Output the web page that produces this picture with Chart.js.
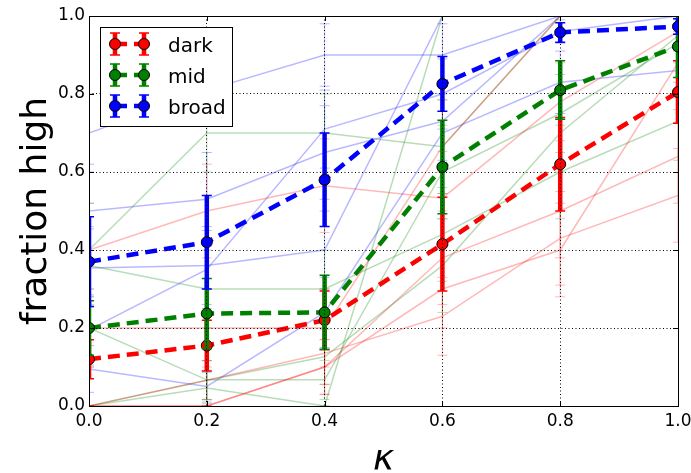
<!DOCTYPE html>
<html><head><meta charset="utf-8">
<script src="https://cdn.jsdelivr.net/npm/chart.js@4.4.0/dist/chart.umd.min.js"></script>
<style>html,body{margin:0;padding:0;background:#fff}#wrap{width:691px;height:473px;position:relative}</style>
</head><body><div id="wrap"><canvas id="c" width="691" height="473"></canvas></div>
<script>
// ---------- data ----------
const kappa = [0.0, 0.2, 0.4, 0.6, 0.8, 1.0];
const tickVals = [0.0, 0.2, 0.4, 0.6, 0.8, 1.0];
const tickLabels = ['0.0', '0.2', '0.4', '0.6', '0.8', '1.0'];
const seriesNames = ['dark', 'mid', 'broad'];

const darkMean = [0.12, 0.155, 0.22, 0.415, 0.62, 0.805];
const darkErr  = [0.05, 0.065, 0.075, 0.12, 0.12, 0.08];
const midMean  = [0.20, 0.237, 0.24, 0.613, 0.81, 0.922];
const midErr   = [0.07, 0.09, 0.095, 0.12, 0.075, 0.08];
const broadMean = [0.37, 0.42, 0.58, 0.826, 0.958, 0.973];
const broadErr  = [0.115, 0.12, 0.12, 0.07, 0.025, 0.02];

const darkRuns = [
  [0.40, 0.50, 0.565, 0.533, 0.78, 0.96],
  [0.20, 0.20, 0.20, 0.665, 1.00, 1.00],
  [0.00, 0.066, 0.135, 0.23, 0.43, 0.54],
  [0.00, 0.00, 0.10, 0.38, 0.50, 0.64],
  [0.00, 0.00, 0.10, 0.30, 0.40, 0.88]
];
const darkRunErrs = [
  [0.12, 0.12, 0.12, 0.12, 0.10, 0.04],
  [0.10, 0.10, 0.10, 0.12, 0.00, 0.00],
  [0.00, 0.05, 0.08, 0.10, 0.12, 0.12],
  [0.00, 0.00, 0.07, 0.12, 0.12, 0.12],
  [0.00, 0.00, 0.07, 0.10, 0.12, 0.08]
];
const midRuns = [
  [0.40, 0.70, 0.70, 0.665, 1.00, 1.00],
  [0.36, 0.30, 0.30, 0.44, 0.60, 0.73],
  [0.20, 0.067, 0.067, 0.60, 0.75, 0.93],
  [0.00, 0.046, 0.00, 1.00, 1.00, 1.00],
  [0.00, 0.066, 0.126, 0.36, 0.70, 0.95]
];
const midRunErrs = [
  [0.12, 0.10, 0.10, 0.12, 0.00, 0.00],
  [0.10, 0.10, 0.10, 0.12, 0.12, 0.10],
  [0.10, 0.05, 0.05, 0.12, 0.10, 0.05],
  [0.00, 0.04, 0.00, 0.00, 0.00, 0.00],
  [0.00, 0.05, 0.07, 0.12, 0.10, 0.04]
];
const broadRuns = [
  [0.70, 0.81, 0.90, 0.90, 1.00, 1.00],
  [0.50, 0.53, 0.65, 0.73, 1.00, 1.00],
  [0.354, 0.36, 0.40, 1.00, 1.00, 1.00],
  [0.195, 0.35, 0.71, 0.80, 0.96, 1.00],
  [0.095, 0.05, 0.24, 0.70, 0.83, 0.86]
];
const broadRunErrs = [
  [0.10, 0.09, 0.08, 0.08, 0.00, 0.00],
  [0.12, 0.12, 0.12, 0.10, 0.00, 0.00],
  [0.10, 0.10, 0.10, 0.00, 0.00, 0.00],
  [0.09, 0.10, 0.10, 0.09, 0.03, 0.00],
  [0.06, 0.04, 0.09, 0.10, 0.08, 0.07]
];

// ---------- style ----------
const COLORS = {dark: '#ff0000', mid: '#008000', broad: '#0000ff'};
const FAINT = {dark: 'rgba(255,0,0,0.28)', mid: 'rgba(0,128,0,0.28)', broad: 'rgba(0,0,255,0.28)'};
const MAIN_DASH = [12, 7];
const FONT = 'DejaVu Sans';

function pts(vals) { return kappa.map((k, i) => ({x: k, y: vals[i]})); }

const datasets = [];
const mains = [
  ['broad', broadMean, broadErr],
  ['mid', midMean, midErr],
  ['dark', darkMean, darkErr]
];
mains.forEach(([name, vals, errs]) => {
  datasets.push({
    label: name, data: pts(vals), errors: errs,
    borderColor: COLORS[name], backgroundColor: COLORS[name],
    borderWidth: 4.5, borderDash: MAIN_DASH,
    pointRadius: 5.5, pointBorderColor: '#000', pointBorderWidth: 1,
    pointBackgroundColor: COLORS[name],
    errColor: COLORS[name], errWidth: 4.5, capHalf: 5, capWidth: 1.5,
    clip: 0, order: 0
  });
});
[['dark', darkRuns, darkRunErrs], ['mid', midRuns, midRunErrs], ['broad', broadRuns, broadRunErrs]]
.forEach(([name, runs, errs]) => {
  runs.forEach((r, j) => {
    datasets.push({
      label: name + ' run ' + (j + 1), data: pts(r), errors: errs[j],
      borderColor: FAINT[name], borderWidth: 1.5, pointRadius: 0,
      errColor: FAINT[name], errWidth: 1, capHalf: 5, capWidth: 1,
      clip: 0, order: 5
    });
  });
});

// ---------- plugins ----------
function errBar(ctx, px, yt, yb, color, lw, capHalf, capLw) {
  ctx.strokeStyle = color;
  ctx.lineWidth = lw;
  ctx.beginPath(); ctx.moveTo(px, yt); ctx.lineTo(px, yb); ctx.stroke();
  ctx.lineWidth = capLw;
  ctx.beginPath();
  ctx.moveTo(px - capHalf, yt); ctx.lineTo(px + capHalf, yt);
  ctx.moveTo(px - capHalf, yb); ctx.lineTo(px + capHalf, yb);
  ctx.stroke();
}

const errorBarPlugin = {
  id: 'errbars',
  beforeDatasetDraw(chart, args) {
    const ds = chart.data.datasets[args.index];
    if (!ds.errors) return;
    const {ctx, chartArea: a, scales: {x, y}} = chart;
    ctx.save();
    ctx.beginPath(); ctx.rect(a.left, a.top, a.right - a.left, a.bottom - a.top); ctx.clip();
    ds.data.forEach((p, i) => {
      const e = ds.errors[i];
      const px = x.getPixelForValue(p.x);
      errBar(ctx, px, y.getPixelForValue(p.y + e), y.getPixelForValue(p.y - e),
             ds.errColor, ds.errWidth, ds.capHalf, ds.capWidth);
    });
    ctx.restore();
  }
};

const framePlugin = {
  id: 'frame',
  afterDraw(chart) {
    const {ctx, chartArea: a, scales: {x, y}} = chart;
    ctx.save();
    ctx.strokeStyle = '#000'; ctx.lineWidth = 1; ctx.setLineDash([]);
    ctx.strokeRect(Math.round(a.left) + 0.5, Math.round(a.top) + 0.5,
                   Math.round(a.right - a.left), Math.round(a.bottom - a.top));
    ctx.beginPath();
    tickVals.forEach(v => {
      const px = Math.round(x.getPixelForValue(v)) + 0.5;
      ctx.moveTo(px, a.bottom); ctx.lineTo(px, a.bottom - 5);
      ctx.moveTo(px, a.top); ctx.lineTo(px, a.top + 5);
      const py = Math.round(y.getPixelForValue(v)) + 0.5;
      ctx.moveTo(a.left, py); ctx.lineTo(a.left + 5, py);
      ctx.moveTo(a.right, py); ctx.lineTo(a.right - 5, py);
    });
    ctx.stroke();

    // legend
    const L = 100.5, T = 27.5, W = 132, H = 99;
    ctx.fillStyle = '#fff'; ctx.fillRect(L, T, W, H);
    ctx.strokeStyle = '#000'; ctx.lineWidth = 1; ctx.strokeRect(L, T, W, H);
    const rowsY = [44, 75, 106];
    const mx = [115, 144];
    seriesNames.forEach((name, i) => {
      const cy = rowsY[i];
      const c = COLORS[name];
      ctx.save();
      ctx.strokeStyle = c; ctx.lineWidth = 4.5; ctx.setLineDash(MAIN_DASH);
      ctx.beginPath(); ctx.moveTo(mx[0], cy); ctx.lineTo(mx[1], cy); ctx.stroke();
      ctx.restore();
      mx.forEach(px => {
        errBar(ctx, px, cy - 11, cy + 11, c, 4.5, 5, 1.5);
        ctx.beginPath(); ctx.arc(px, cy, 5.5, 0, Math.PI * 2);
        ctx.fillStyle = c; ctx.fill();
        ctx.lineWidth = 1; ctx.strokeStyle = '#000'; ctx.stroke();
      });
      ctx.fillStyle = '#000';
      ctx.font = '20px "' + FONT + '"';
      ctx.textBaseline = 'alphabetic'; ctx.textAlign = 'left';
      ctx.fillText(name, 168, cy + 8);
    });
    ctx.restore();
  }
};

// ---------- chart ----------
Chart.defaults.font.family = FONT;
const axisCommon = (titleText, fitFn) => ({
  type: 'linear', min: 0, max: 1,
  afterBuildTicks: s => { s.ticks = tickVals.map(v => ({value: v})); },
  ticks: {
    callback: (v, i) => tickLabels[i],
    font: {family: FONT, size: 17}, color: '#000',
    maxRotation: 0, autoSkip: false
  },
  grid: {color: '#000', lineWidth: 1, drawTicks: false, z: 1},
  border: {display: false, dash: [1, 2.5]},
  title: {display: true, text: titleText, color: '#000',
          font: {family: FONT, size: 36, lineHeight: 1}},
  afterFit: fitFn
});
const xAxis = axisCommon('κ', s => {
  s.height = 67; s.paddingLeft = 0; s.paddingRight = 0;
});
xAxis.ticks.padding = 5;
xAxis.title.font.style = 'italic';
xAxis.title.font.lineHeight = 0.66;
xAxis.title.padding = {top: 0, bottom: 0};
const yAxis = axisCommon('fraction high', s => {
  s.width = 89; s.paddingTop = 0; s.paddingBottom = 0;
});
yAxis.ticks.padding = 4;
yAxis.title.padding = {top: 19, bottom: 0};

new Chart(document.getElementById('c'), {
  type: 'line',
  data: {datasets},
  options: {
    responsive: false, animation: false, devicePixelRatio: 1,
    layout: {padding: {left: 0, right: 13, top: 16, bottom: 0}},
    plugins: {legend: {display: false}, tooltip: {enabled: false}},
    elements: {line: {tension: 0}},
    scales: {x: xAxis, y: yAxis}
  },
  plugins: [errorBarPlugin, framePlugin]
});
</script>
</body></html>
